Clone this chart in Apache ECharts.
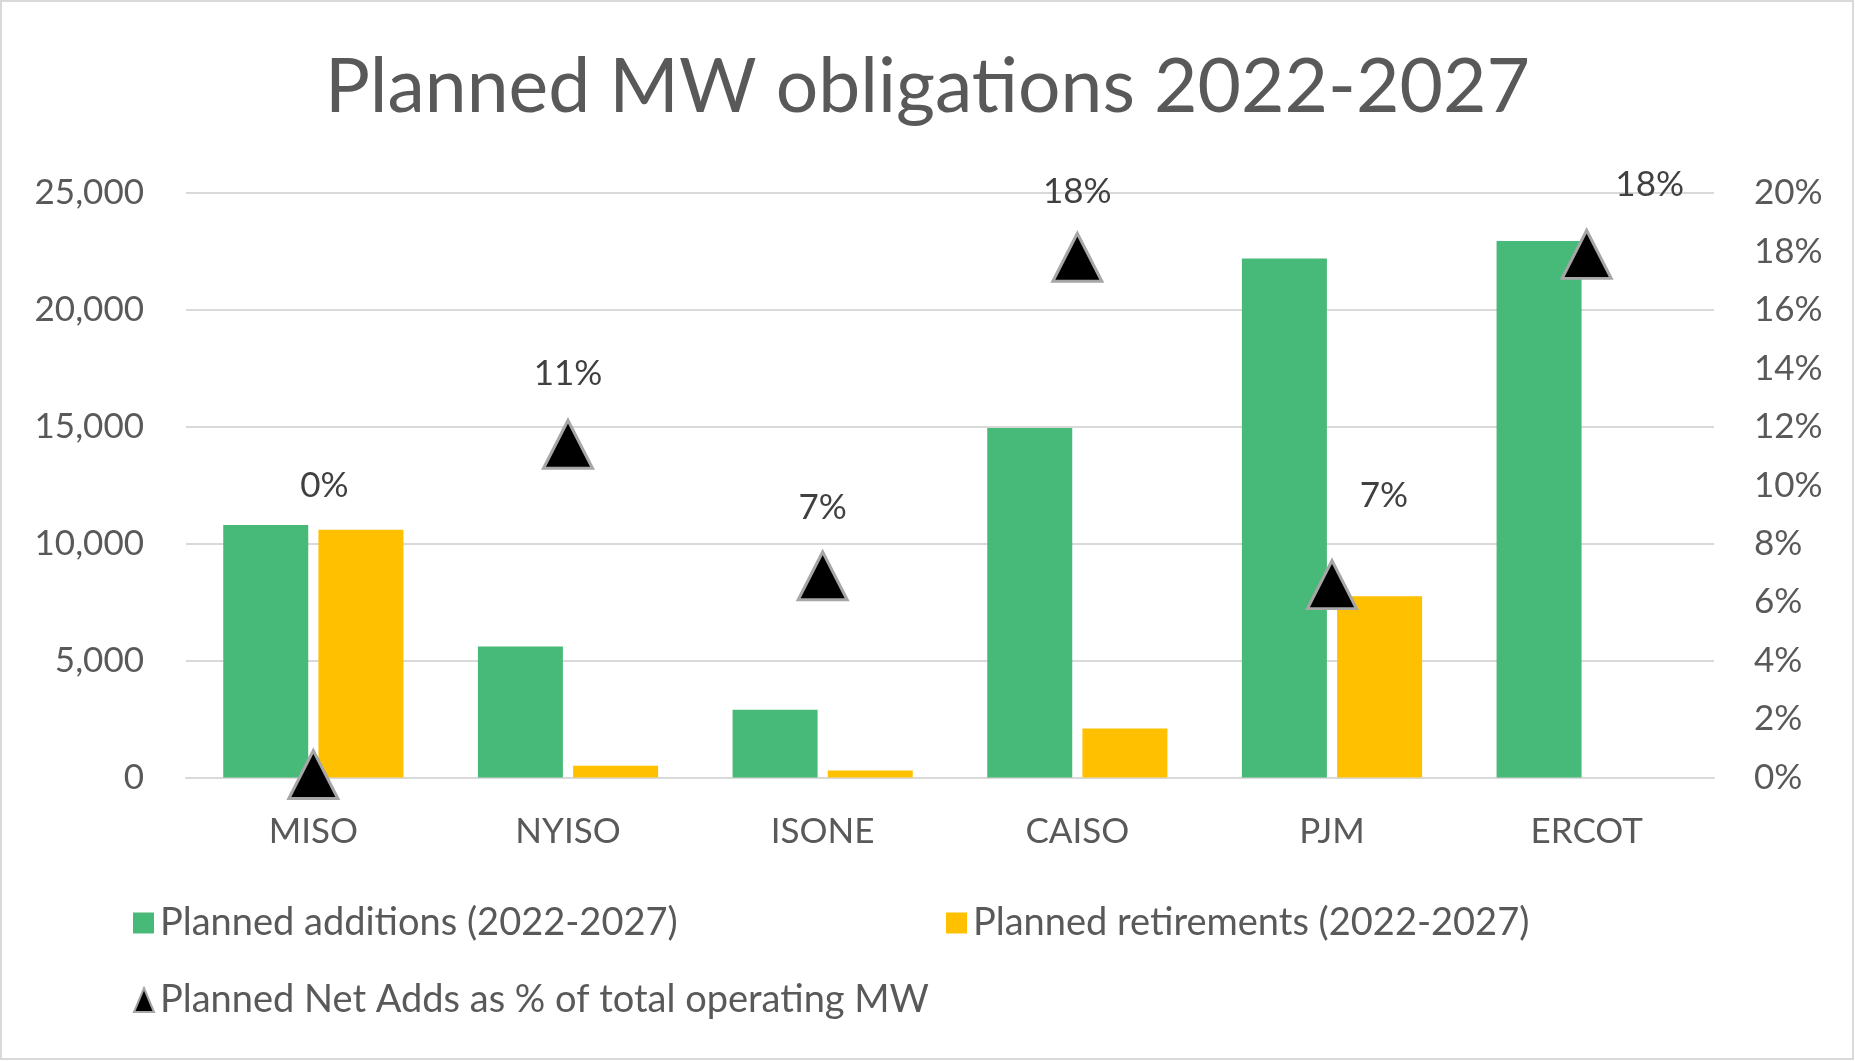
<!DOCTYPE html>
<html>
<head>
<meta charset="utf-8">
<script src="https://cdn.jsdelivr.net/npm/echarts@6/dist/echarts.min.js"></script>
<style>
html,body{margin:0;padding:0;background:#fff;}
#c{width:1855px;height:1061px;}
</style>
</head>
<body>
<div id="c"></div>
<script>
// ---- data ----
const categories = ['MISO', 'NYISO', 'ISONE', 'CAISO', 'PJM', 'ERCOT'];
const additions = [10800, 5600, 2900, 14950, 22200, 22950];
const retirements = [10600, 500, 300, 2100, 7750, null];
const netAddsPct = [0.1, 11.4, 6.9, 17.8, 6.6, 17.9];
const leftTicks = { min: 0, max: 25000, interval: 5000 };
const rightTicks = { min: 0, max: 20, interval: 2 };
const seriesNames = ['Planned additions (2022-2027)', 'Planned retirements (2022-2027)', 'Planned Net Adds as % of total operating MW'];

// ---- layout (manually placed data labels, as in the reference) ----
const labelOffsets = [[11, -289], [0, -71], [0, -68], [0, -66], [52, -89], [63, -70]];

const FONT = 'Lato';
const GREY = '#595959';
const chart = echarts.init(document.getElementById('c'), null, { renderer: 'canvas' });

const legendText = { fontFamily: FONT, fontSize: 38, color: GREY, padding: [0, 0, 0, 1] };

const option = {
  backgroundColor: '#fff',
  animation: false,
  textStyle: { fontFamily: FONT },
  title: {
    text: 'Planned MW obligations 2022-2027',
    left: 'center',
    top: 45,
    textStyle: { fontFamily: FONT, fontSize: 75, fontWeight: 'normal', color: GREY }
  },
  graphic: [{
    type: 'rect', shape: { x: 1, y: 1, width: 1852, height: 1058 },
    style: { fill: 'none', stroke: '#D9D9D9', lineWidth: 2 }, silent: true, z: -1
  }],
  legend: [
    { left: 128, top: 899, itemWidth: 21, itemHeight: 21, icon: 'rect', data: [seriesNames[0]],
      textStyle: legendText },
    { left: 941, top: 899, itemWidth: 21, itemHeight: 21, icon: 'rect', data: [seriesNames[1]],
      textStyle: legendText },
    { left: 128, top: 976, itemWidth: 20, itemHeight: 24,
      data: [{ name: seriesNames[2], icon: 'triangle', itemStyle: { color: '#000', borderColor: '#A6A6A6', borderWidth: 2 } }],
      textStyle: legendText }
  ],
  grid: { left: 186, right: 141, top: 193, height: 584.5, containLabel: false },
  xAxis: {
    type: 'category',
    data: categories,
    axisLine: { show: true, lineStyle: { color: '#D9D9D9', width: 2 } },
    axisTick: { show: false },
    axisLabel: { fontFamily: FONT, fontSize: 35, color: GREY, margin: 37 }
  },
  yAxis: [
    {
      type: 'value', min: leftTicks.min, max: leftTicks.max, interval: leftTicks.interval,
      axisLine: { show: false }, axisTick: { show: false },
      splitLine: { show: true, lineStyle: { color: '#D9D9D9', width: 2 } },
      axisLabel: { fontFamily: FONT, fontSize: 35, color: GREY, margin: 42,
        formatter: v => v.toLocaleString('en-US') }
    },
    {
      type: 'value', min: rightTicks.min, max: rightTicks.max, interval: rightTicks.interval,
      position: 'right',
      axisLine: { show: false }, axisTick: { show: false }, splitLine: { show: false },
      axisLabel: { fontFamily: FONT, fontSize: 35, color: GREY, margin: 40,
        formatter: v => v + '%' }
    }
  ],
  series: [
    {
      name: seriesNames[0], type: 'bar', data: additions, yAxisIndex: 0,
      barWidth: 85, barGap: '12%',
      itemStyle: { color: '#47BA79' }
    },
    {
      name: seriesNames[1], type: 'bar', data: retirements, yAxisIndex: 0,
      barWidth: 85, barGap: '12%',
      itemStyle: { color: '#FFC000' }
    },
    {
      name: seriesNames[2], type: 'scatter', yAxisIndex: 1, z: 5,
      symbol: 'triangle', symbolSize: [49, 48],
      itemStyle: { color: '#000', borderColor: '#A6A6A6', borderWidth: 3, opacity: 1 },
      data: netAddsPct.map((v, i) => ({
        value: v,
        label: { offset: labelOffsets[i] }
      })),
      label: {
        show: true, position: 'inside',
        fontFamily: FONT, fontSize: 35, color: '#404040',
        formatter: p => Math.round(p.value) + '%'
      }
    }
  ]
};
chart.setOption(option);
</script>
</body>
</html>
